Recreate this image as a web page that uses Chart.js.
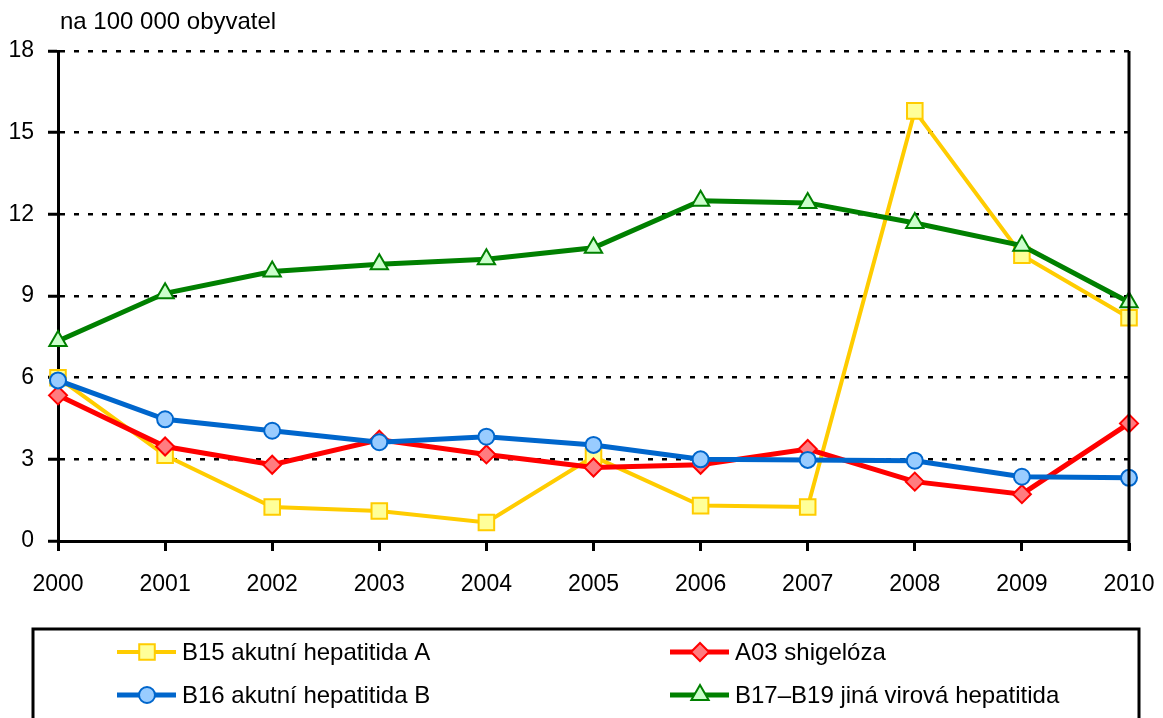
<!DOCTYPE html>
<html>
<head>
<meta charset="utf-8">
<script src="https://cdn.jsdelivr.net/npm/chart.js@4"></script>
<style>
  html, body { margin: 0; padding: 0; background: #fff; }
  #wrap { width: 1163px; height: 718px; }
</style>
</head>
<body>
<div id="wrap"><canvas id="myChart" width="1163" height="718"></canvas></div>
<script>
// Data grafu
const roky = ['2000', '2001', '2002', '2003', '2004', '2005', '2006', '2007', '2008', '2009', '2010'];
const hepatitidaA = [6.0, 3.15, 1.25, 1.1, 0.68, 3.1, 1.3, 1.25, 15.8, 10.5, 8.2];
const shigeloza = [5.35, 3.47, 2.8, 3.72, 3.18, 2.7, 2.8, 3.38, 2.18, 1.72, 4.32];
const hepatitidaB = [5.9, 4.47, 4.05, 3.63, 3.83, 3.53, 3.0, 2.98, 2.95, 2.36, 2.32];
const jinaVirova = [7.35, 9.1, 9.9, 10.17, 10.35, 10.77, 12.5, 12.42, 11.68, 10.85, 8.77];
const popisky = ['B15 akutní hepatitida A', 'A03 shigelóza', 'B16 akutní hepatitida B', 'B17\u2013B19 jiná virová hepatitida'];
const osaY = [0, 3, 6, 9, 12, 15, 18];

const FONT = "'Liberation Sans', Arial, sans-serif";

const data = {
    labels: roky,
    datasets: [{
        label: popisky[0],
        data: hepatitidaA,
        borderColor: '#FFCC00',
        backgroundColor: '#FFFF99',
        borderWidth: 4,
        pointStyle: 'rect',
        pointRadius: 11,
        pointBorderWidth: 2,
        order: 3
    }, {
        label: popisky[1],
        data: shigeloza,
        borderColor: '#FF0000',
        backgroundColor: '#FF7C80',
        borderWidth: 5,
        pointStyle: 'rectRot',
        pointRadius: 9,
        pointBorderWidth: 2,
        order: 2
    }, {
        label: popisky[2],
        data: hepatitidaB,
        borderColor: '#0066CC',
        backgroundColor: '#99CCFF',
        borderWidth: 5,
        pointStyle: 'circle',
        pointRadius: 8,
        pointBorderWidth: 2,
        order: 1
    }, {
        label: popisky[3],
        data: jinaVirova,
        borderColor: '#008000',
        backgroundColor: '#CCFFCC',
        borderWidth: 5,
        pointStyle: 'triangle',
        pointRadius: 10,
        pointBorderWidth: 2,
        order: 0
    }]
};

// nadpis osy, pravý okraj a legenda v rámečku
const extras = {
    id: 'extras',
    afterDraw(chart) {
        const ctx = chart.ctx;
        const area = chart.chartArea;
        ctx.save();
        // pravá svislá čára
        ctx.strokeStyle = '#000';
        ctx.lineWidth = 3;
        ctx.beginPath();
        ctx.moveTo(area.right, area.top);
        ctx.lineTo(area.right, area.bottom + 10);
        ctx.stroke();

        ctx.fillStyle = '#000';
        ctx.font = '24px ' + FONT;
        ctx.textBaseline = 'middle';
        ctx.textAlign = 'left';
        ctx.fillText('na 100 000 obyvatel', 60, 22);

        // rámeček legendy
        ctx.lineWidth = 3;
        ctx.strokeRect(33, 629, 1106, 120);

        const pozice = [[117, 652], [670, 652], [117, 695], [670, 695]];
        chart.data.datasets.forEach((ds, i) => {
            const [x, y] = pozice[i];
            ctx.strokeStyle = ds.borderColor;
            ctx.lineWidth = ds.borderWidth;
            ctx.beginPath();
            ctx.moveTo(x, y);
            ctx.lineTo(x + 59, y);
            ctx.stroke();
            ctx.fillStyle = ds.backgroundColor;
            ctx.lineWidth = ds.pointBorderWidth;
            Chart.helpers.drawPoint(ctx, { pointStyle: ds.pointStyle, radius: ds.pointRadius, borderWidth: ds.pointBorderWidth, rotation: 0 }, x + 30, y);
            ctx.fillStyle = '#000';
            ctx.fillText(ds.label, x + 65, y + 1);
        });
        ctx.restore();
    }
};

const config = {
    type: 'line',
    data: data,
    options: {
        responsive: false,
        animation: false,
        layout: { padding: { top: 51, right: 34, bottom: 117, left: 0 } },
        plugins: {
            legend: { display: false },
            tooltip: { enabled: false }
        },
        scales: {
            x: {
                offset: false,
                grid: {
                    drawOnChartArea: false,
                    tickLength: 10,
                    tickColor: '#000',
                    tickWidth: 3
                },
                border: { color: '#000', width: 3 },
                ticks: {
                    color: '#000',
                    font: { family: FONT, size: 23 },
                    padding: 20,
                    maxRotation: 0,
                    autoSkip: false
                },
                afterFit(scale) {
                    scale.height = 60;
                    scale.paddingLeft = 0;
                    scale.paddingRight = 0;
                }
            },
            y: {
                min: 0,
                max: 18,
                afterBuildTicks(scale) { scale.ticks = osaY.map(v => ({ value: v })); },
                grid: {
                    color: '#000',
                    lineWidth: 2.5,
                    tickLength: 10,
                    tickColor: '#000',
                    tickWidth: 3,
                    tickBorderDash: []
                },
                border: { color: '#000', width: 3, dash: [5, 9] },
                ticks: {
                    color: '#000',
                    font: { family: FONT, size: 23 },
                    padding: 14
                },
                afterFit(scale) {
                    scale.width = 58;
                    scale.paddingTop = 0;
                    scale.paddingBottom = 0;
                }
            }
        }
    },
    plugins: [extras]
};

// Vytvoření grafu
var myChart = new Chart(
    document.getElementById('myChart'),
    config
);
</script>
</body>
</html>
